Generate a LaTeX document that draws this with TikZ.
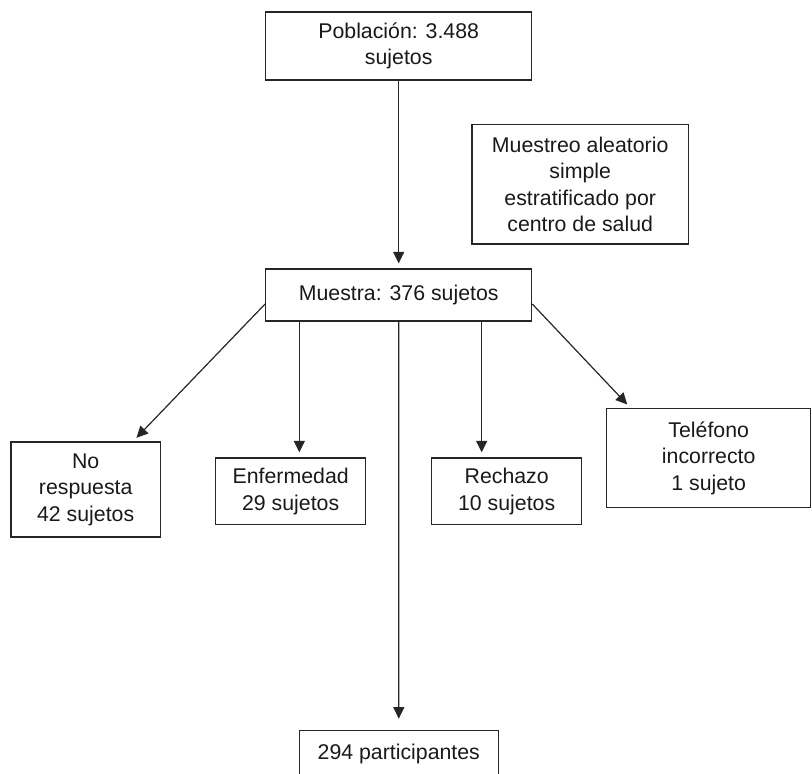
\documentclass[tikz,border=0pt]{standalone}
\usepackage{fontspec}
\setmainfont{Liberation Sans}
\usetikzlibrary{arrows.meta}
\begin{document}
\begin{tikzpicture}[x=1pt,y=-1pt,
  box/.style={draw=black!85, line width=1.2pt, align=center, inner sep=0pt,
    font=\fontsize{21.3}{26.5}\selectfont, text=black!90},
  arr/.style={draw=black!85, line width=1.2pt, -{Triangle[length=11.5pt,width=11pt]}, shorten >=5pt}]
\useasboundingbox (0,0) rectangle (812,774);
\node[box, minimum width=266pt, minimum height=68pt] (pob) at (398.7,46) {Población: 3.488\\sujetos};
\node[box, minimum width=216.3pt, minimum height=119.3pt] (mst) at (580.2,184.3) {Muestreo aleatorio\\simple\\estratificado por\\centro de salud};
\node[box, minimum width=266pt, minimum height=52pt] (mue) at (398.7,295) {Muestra: 376 sujetos};
\node[box, minimum width=149.3pt, minimum height=95pt] (nor) at (85.7,489.5) {No\\respuesta\\42 sujetos};
\node[box, minimum width=150pt, minimum height=66.7pt] (enf) at (290.7,491.3) {Enfermedad\\29 sujetos};
\node[box, minimum width=150pt, minimum height=66.7pt] (rec) at (506.7,491.3) {Rechazo\\10 sujetos};
\node[box, minimum width=204pt, minimum height=99pt] (tel) at (708.7,458.2) {Teléfono\\incorrecto\\1 sujeto};
\node[box, minimum width=199pt, minimum height=48pt] (par) at (398.8,754.3) {294 participantes};
\draw[arr] (pob.south) -- (mue.north);
\draw[arr] ([yshift=-9pt]mue.west) -- ([xshift=47.3pt]nor.north);
\draw[arr] ([yshift=-9pt]mue.east) -- ([xshift=-78pt]tel.north);
\draw[arr] (mue.south -| enf.north) ++(8.6,0) coordinate (e1) -- (e1 |- enf.north);
\draw[arr] (mue.south -| rec.north) ++(-25,0) coordinate (r1) -- (r1 |- rec.north);
\draw[arr, shorten >=11pt] (mue.south) -- (par.north);
\end{tikzpicture}
\end{document}
